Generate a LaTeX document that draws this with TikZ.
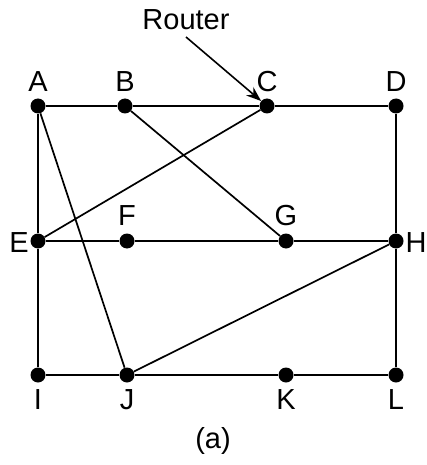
\documentclass[tikz,border=0pt]{standalone}
\usepackage{fontspec}
\setmainfont{Liberation Sans}
\usetikzlibrary{arrows.meta}
\begin{document}
\begin{tikzpicture}[x=1pt,y=-1pt,
  router/.style={circle,fill=black,inner sep=0pt,minimum size=15pt},
  lbl/.style={font=\fontsize{29}{31}\selectfont,inner sep=0pt},
  link/.style={line width=1.7pt}]
\useasboundingbox (0,0) rectangle (426,465);
\node[router] (A) at (38,106) {};
\node[router] (B) at (125,106) {};
\node[router] (C) at (267,106) {};
\node[router] (D) at (396,106) {};
\node[router] (E) at (38,241) {};
\node[router] (F) at (127,241) {};
\node[router] (G) at (286,241) {};
\node[router] (H) at (396,241) {};
\node[router] (I) at (38,375) {};
\node[router] (J) at (127,375) {};
\node[router] (K) at (286,375) {};
\node[router] (L) at (396,375) {};
\node[lbl] (lA) at (38,82) {A};
\node[lbl] (lB) at (125,82) {B};
\node[lbl] (lC) at (267,82) {C};
\node[lbl] (lD) at (396,82) {D};
\node[lbl] (lE) at (19,243) {E};
\node[lbl] (lF) at (127,216) {F};
\node[lbl] (lG) at (286,216) {G};
\node[lbl] (lH) at (416,243) {H};
\node[lbl] (lI) at (38,400) {I};
\node[lbl] (lJ) at (127,400) {J};
\node[lbl] (lK) at (286,400) {K};
\node[lbl] (lL) at (396,400) {L};
\node[lbl] (cap) at (213,441) {(a)};
\node[lbl] (rt) at (186,20) {Router};
\draw[link] (A) -- (B) -- (C) -- (D) -- (H) -- (L) -- (K) -- (J) -- (I) -- (E) -- (A);
\draw[link] (E) -- (F) -- (G) -- (H);
\draw[link] (A) -- (J);
\draw[link] (B) -- (G);
\draw[link] (C) -- (E);
\draw[link] (J) -- (H);
\coordinate (rs) at (186,37);
\draw[line width=1.6pt,-{Stealth[length=15pt,width=11pt]}] (rs) -- (C);
\end{tikzpicture}
\end{document}
